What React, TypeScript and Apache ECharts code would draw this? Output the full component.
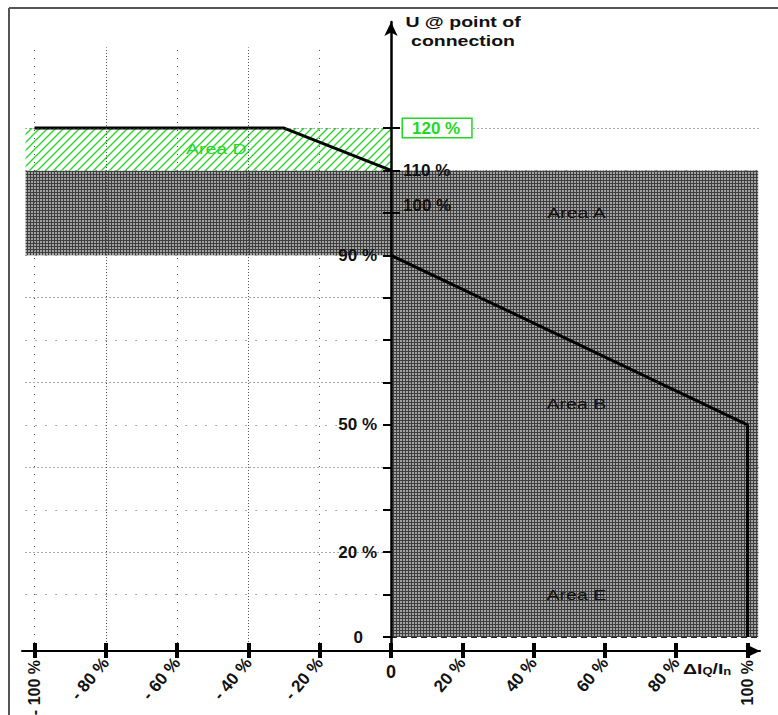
import React, { useEffect, useRef } from "react";
import * as echarts from "echarts";

// ---- data ----
const xTicks = [-100, -80, -60, -40, -20, 0, 20, 40, 60, 80, 100];
const xLabelsSlanted = [-80, -60, -40, -20, 20, 40, 60, 80];
const xLabelsVertical = [-100, 100];
const xLabelsFlat = [0];
const yTicks = [0, 10, 20, 30, 40, 50, 60, 70, 80, 90, 100, 110, 120];
const yLabelsLeft = [0, 20, 50, 90];
const yLabelsRight = [100, 110, 120];
const yTicksRight = [100, 110, 120];
const denseX = [-80, -40];
const denseY = [20, 40, 60, 80, 100, 120];
// upper voltage limit (Area D boundary)
const upperLimit = [
  [-100, 120],
  [-30, 120],
  [0, 110],
];
// lower boundary of Area A / B
const lowerLimit = [
  [0, 90],
  [100, 50],
  [100, 0],
];
// rectangles: [x1, x2, y1, y2]
const areaRects = [
  [0, 103, 0, 110],
  [-102.5, 0, 90, 110],
  [-102.5, 0, 110, 120],
];
const areaKinds = ["grey", "grey", "green"];
const areaLabelNames = ["Area A", "Area B", "Area E", "Area D"];
const areaLabelX = [52, 52, 52, -49];
const areaLabelY = [100, 55, 10, 115];
const dashedLevels = [20, 0];
const dashedEnds = [105, 103];

const FONT = "'Liberation Sans', Arial, sans-serif";
const GREEN = "#22d822";

function makeGridPattern() {
  const c = document.createElement("canvas");
  c.width = 3;
  c.height = 3;
  const ctx = c.getContext("2d")!;
  ctx.fillStyle = "#a2a2a2";
  ctx.fillRect(0, 0, 3, 3);
  ctx.fillStyle = "#3e3e3e";
  ctx.fillRect(0, 0, 3, 1);
  ctx.fillRect(0, 0, 1, 3);
  return c;
}

function makeHatchPattern() {
  const c = document.createElement("canvas");
  c.width = 8;
  c.height = 8;
  const ctx = c.getContext("2d")!;
  ctx.fillStyle = "#ffffff";
  ctx.fillRect(0, 0, 8, 8);
  ctx.strokeStyle = GREEN;
  ctx.lineWidth = 1.3;
  ctx.beginPath();
  ctx.moveTo(-1, 9);
  ctx.lineTo(9, -1);
  ctx.moveTo(-2, 2);
  ctx.lineTo(2, -2);
  ctx.moveTo(6, 10);
  ctx.lineTo(10, 6);
  ctx.stroke();
  return c;
}

export default function App() {
  const ref = useRef<HTMLDivElement>(null);

  useEffect(() => {
    if (!ref.current) return;
    const chart = echarts.init(ref.current, undefined, { renderer: "svg" });
    const greyFill = { image: makeGridPattern(), repeat: "repeat" };
    const greenFill = { image: makeHatchPattern(), repeat: "repeat" };

    const xMin = -103.5;
    const xMax = 103.5;
    const yMin = -3.3;
    const yMax = 145;
    const gridLeft = 22;
    const gridRight = 18;
    const plotW = 778 - gridLeft - gridRight;
    // horizontal pixel distance from grid left edge to x = 0
    const yAxisOffset = -((0 - xMin) / (xMax - xMin)) * plotW;

    const gridLines: any[] = [];
    xTicks
      .filter((v) => v < 0)
      .forEach((v) => {
        gridLines.push([
          {
            coord: [v, yMin],
            lineStyle: { type: denseX.includes(v) ? [1, 2] : [1, 7], color: "#555", width: 1 },
          },
          { coord: [v, 139] },
        ]);
      });
    yTicks
      .filter((v) => v > 0)
      .forEach((v) => {
        gridLines.push([
          {
            coord: [-102.5, v],
            lineStyle: { type: denseY.includes(v) ? [1, 3] : [1, 9], color: "#555", width: 1 },
          },
          { coord: [xMax, v] },
        ]);
      });

    const dashed = dashedLevels.map((lv, i) => [
      { coord: [0, lv] },
      { coord: [dashedEnds[i], lv] },
    ]);

    const xFmt = (v: number) => (v < 0 ? `- ${-v} %` : v === 0 ? "0" : `${v} %`);
    const baseX = {
      type: "value",
      min: xMin,
      max: xMax,
      position: "bottom",
      splitLine: { show: false },
      z: 10,
    };
    const baseY = {
      type: "value",
      min: yMin,
      max: yMax,
      position: "left",
      offset: yAxisOffset,
      z: 10,
      splitLine: { show: false },
    };

    chart.setOption({
      animation: false,
      backgroundColor: "#ffffff",
      grid: {
        left: gridLeft,
        right: gridRight,
        top: 22,
        bottom: 64,
        containLabel: false,
        outerBoundsMode: "none",
      },
      xAxis: [
        {
          ...baseX,
          axisLine: {
            show: true,
            onZero: false,
            symbol: ["none", "arrow"],
            symbolSize: [10, 14],
            lineStyle: { color: "#000", width: 2 },
          },
          axisTick: {
            show: true,
            customValues: xTicks,
            length: 7,
            lineStyle: { color: "#000", width: 4 },
          },
          axisLabel: {
            customValues: xLabelsSlanted,
            rotate: 50,
            margin: 9,
            formatter: xFmt,
            fontFamily: FONT,
            fontWeight: "bold",
            fontSize: 17,
            color: "#111",
          },
        },
        {
          ...baseX,
          axisLine: { show: false, onZero: false },
          axisTick: {
            show: true,
            inside: true,
            customValues: xTicks,
            length: 8,
            lineStyle: { color: "#000", width: 4 },
          },
          axisLabel: {
            customValues: xLabelsVertical,
            rotate: 90,
            margin: 9,
            formatter: xFmt,
            fontFamily: FONT,
            fontWeight: "bold",
            fontSize: 16,
            color: "#111",
          },
        },
        {
          ...baseX,
          axisLine: { show: false, onZero: false },
          axisTick: { show: false },
          axisLabel: {
            customValues: xLabelsFlat,
            rotate: 0,
            margin: 12,
            formatter: xFmt,
            fontFamily: FONT,
            fontWeight: "bold",
            fontSize: 18,
            color: "#111",
          },
        },
      ],
      yAxis: [
        {
          ...baseY,
          axisLine: {
            show: true,
            onZero: false,
            symbol: ["none", "arrow"],
            symbolSize: [10, 14],
            lineStyle: { color: "#000", width: 2.5 },
          },
          axisTick: {
            show: true,
            customValues: yTicks,
            length: 8,
            lineStyle: { color: "#000", width: 2 },
          },
          axisLabel: {
            customValues: yLabelsLeft,
            margin: 14,
            formatter: (v: number) => (v === 0 ? "{z|0}" : `${v} %`),
            fontFamily: FONT,
            fontWeight: "bold",
            fontSize: 17,
            color: "#111",
            rich: {
              z: {
                fontFamily: FONT,
                fontWeight: "bold",
                fontSize: 17,
                color: "#111",
                padding: [0, 14, 0, 0],
              },
            },
          },
        },
        {
          ...baseY,
          axisLine: { show: false, onZero: false },
          axisTick: {
            show: true,
            inside: true,
            customValues: yTicksRight,
            length: 9,
            lineStyle: { color: "#000", width: 2 },
          },
          axisLabel: {
            inside: true,
            customValues: yLabelsRight,
            margin: 12,
            formatter: (v: number) =>
              v === 120 ? "{g|120 %}" : v === 100 ? "{u|100 %}" : `${v} %`,
            fontFamily: FONT,
            fontWeight: "bold",
            fontSize: 17,
            color: "#111",
            rich: {
              g: {
                fontFamily: FONT,
                fontWeight: "bold",
                fontSize: 17,
                color: GREEN,
                borderColor: GREEN,
                borderWidth: 1.5,
                backgroundColor: "#fff",
                padding: [1, 11, 0, 9],
              },
              u: {
                fontFamily: FONT,
                fontWeight: "bold",
                fontSize: 17,
                color: "#111",
                padding: [0, 0, 14, 0],
              },
            },
          },
        },
      ],
      graphic: [
        {
          type: "line",
          shape: { x1: 9, y1: 8, x2: 778, y2: 8 },
          style: { stroke: "#555", lineWidth: 2 },
        },
        {
          type: "line",
          shape: { x1: 9, y1: 8, x2: 9, y2: 715 },
          style: { stroke: "#555", lineWidth: 2 },
        },
        {
          type: "text",
          x: 463,
          y: 12,
          scaleX: 1.3,
          style: {
            text: "U @ point of\nconnection",
            font: `bold 15px ${FONT}`,
            fill: "#111",
            align: "center",
            lineHeight: 19,
          },
        },
        {
          type: "text",
          x: 683,
          y: 660,
          scaleX: 1.3,
          style: {
            text: "ΔI{s|Q}/I{s|n}",
            font: `bold 15px ${FONT}`,
            fill: "#111",
            rich: {
              s: {
                font: `bold 10px ${FONT}`,
                fill: "#111",
                verticalAlign: "bottom",
                padding: [7, 0, 0, 0],
              },
            },
          },
        },
      ],
      series: [
        {
          type: "line",
          name: "grid",
          z: 1,
          data: [],
          silent: true,
          markLine: {
            silent: true,
            symbol: ["none", "none"],
            label: { show: false },
            emphasis: { disabled: true },
            data: gridLines,
          },
        },
        {
          type: "custom",
          name: "areas",
          z: 2,
          silent: true,
          encode: { x: [0, 1], y: [2, 3] },
          data: areaRects,
          renderItem: (params: any, api: any) => {
            const p1 = api.coord([api.value(0), api.value(3)]);
            const p2 = api.coord([api.value(1), api.value(2)]);
            const kind = areaKinds[params.dataIndex];
            return {
              type: "rect",
              shape: { x: p1[0], y: p1[1], width: p2[0] - p1[0], height: p2[1] - p1[1] },
              style: { fill: kind === "green" ? greenFill : greyFill },
            };
          },
        },
        {
          type: "line",
          name: "dashed",
          z: 3,
          data: [],
          silent: true,
          markLine: {
            silent: true,
            symbol: ["none", "none"],
            label: { show: false },
            lineStyle: { type: [6, 4], color: "#222", width: 1 },
            data: dashed,
          },
        },
        {
          type: "line",
          name: "upper",
          z: 4,
          data: upperLimit,
          symbol: "none",
          lineStyle: { color: "#000", width: 3 },
        },
        {
          type: "line",
          name: "lower",
          z: 4,
          data: lowerLimit,
          symbol: "none",
          lineStyle: { color: "#000", width: 3 },
        },
        {
          type: "custom",
          name: "labels",
          z: 5,
          silent: true,
          data: areaLabelNames.map((_, i) => [areaLabelX[i], areaLabelY[i]]),
          renderItem: (params: any, api: any) => {
            const p = api.coord([api.value(0), api.value(1)]);
            const i = params.dataIndex;
            return {
              type: "text",
              x: p[0],
              y: p[1],
              scaleX: 1.3,
              style: {
                text: areaLabelNames[i],
                font: `15px ${FONT}`,
                fill: areaLabelNames[i] === "Area D" ? GREEN : "#111",
                align: "center",
                verticalAlign: "middle",
              },
            };
          },
        },
      ],
    });

    return () => chart.dispose();
  }, []);

  return (
    <div
      ref={ref}
      style={{ position: "fixed", left: 0, top: 0, width: 778, height: 715 }}
    />
  );
}
